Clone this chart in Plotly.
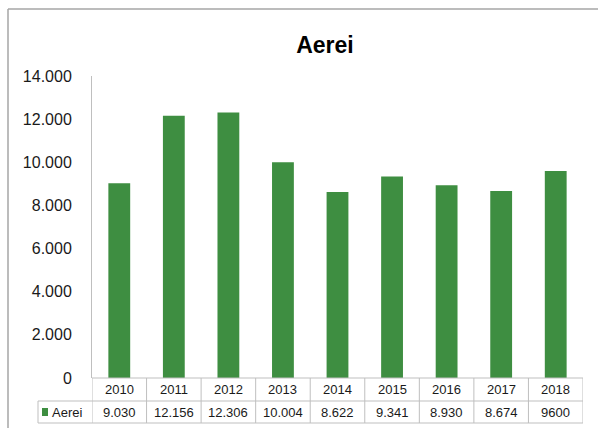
import plotly.graph_objects as go

years = ["2010", "2011", "2012", "2013", "2014", "2015", "2016", "2017", "2018"]
values = [9030, 12156, 12306, 10004, 8622, 9341, 8930, 8674, 9600]
value_labels = ["9.030", "12.156", "12.306", "10.004", "8.622", "9.341", "8.930", "8.674", "9600"]
series_name = "Aerei"
title_text = "Aerei"

W, H = 598, 428
L, R, T, B = 92, 15, 76, 50
pw = W - L - R
ph = H - T - B

def px(xpix):
    return (xpix - L) / pw

def py(ypix):
    return (H - B - ypix) / ph

GREEN = "#3e8e41"
LINE = "#bfbfbf"
FONT = "Liberation Sans"
TXT = "#1a1a1a"

fig = go.Figure()
fig.add_trace(go.Bar(x=years, y=values, marker=dict(color=GREEN, line=dict(width=0)),
                     width=0.4, name=series_name, showlegend=False))

shapes = []
# outer chart border (left and top)
shapes.append(dict(type="line", xref="paper", yref="paper", x0=px(8), x1=px(8), y0=py(9), y1=py(430),
                   line=dict(color="#a6a6a6", width=1.5)))
shapes.append(dict(type="line", xref="paper", yref="paper", x0=px(8), x1=px(600), y0=py(9), y1=py(9),
                   line=dict(color="#a6a6a6", width=1.5)))
# table horizontal lines
row1 = py(401)
row2 = py(423)
shapes.append(dict(type="line", xref="paper", yref="paper", x0=0, x1=1, y0=0, y1=0, line=dict(color=LINE, width=1)))
shapes.append(dict(type="line", xref="paper", yref="paper", x0=px(38), x1=1, y0=row1, y1=row1, line=dict(color=LINE, width=1)))
shapes.append(dict(type="line", xref="paper", yref="paper", x0=px(38), x1=1, y0=row2, y1=row2, line=dict(color=LINE, width=1)))
# legend cell left border
shapes.append(dict(type="line", xref="paper", yref="paper", x0=px(38), x1=px(38), y0=row1, y1=row2, line=dict(color=LINE, width=1)))
# vertical table lines at category boundaries
for i in range(len(years) + 1):
    shapes.append(dict(type="line", xref="x", yref="paper", x0=i - 0.5, x1=i - 0.5, y0=0, y1=row2,
                       line=dict(color=LINE, width=1)))
# legend key
shapes.append(dict(type="rect", xref="paper", yref="paper", x0=px(42), x1=px(48), y0=py(416), y1=py(408),
                   fillcolor=GREEN, line=dict(width=0)))

annotations = []
for i, (yr, lab) in enumerate(zip(years, value_labels)):
    annotations.append(dict(x=i, y=(0 + row1) / 2, xref="x", yref="paper", text=yr, showarrow=False,
                            xanchor="center", yanchor="middle",
                            font=dict(family=FONT, size=13, color=TXT)))
    annotations.append(dict(x=i, y=(row1 + row2) / 2, xref="x", yref="paper", text=lab, showarrow=False,
                            xanchor="center", yanchor="middle",
                            font=dict(family=FONT, size=13, color=TXT)))
annotations.append(dict(x=px(50), y=(row1 + row2) / 2, xref="paper", yref="paper", text=series_name,
                        showarrow=False, xanchor="left", yanchor="middle",
                        font=dict(family=FONT, size=13, color=TXT)))

fig.update_layout(
    width=W, height=H,
    margin=dict(l=L, r=R, t=T, b=B),
    paper_bgcolor="white", plot_bgcolor="white",
    separators=",.",
    title=dict(text="<b>" + title_text + "</b>", xref="container", x=325 / W, xanchor="center",
               yref="container", y=1 - 45 / H, yanchor="middle",
               font=dict(family=FONT, size=23, color="black")),
    xaxis=dict(type="category", range=[-0.5, len(years) - 0.5], showticklabels=False, showgrid=False,
               showline=False, zeroline=False, ticks=""),
    yaxis=dict(range=[0, 14000], tickvals=[0, 2000, 4000, 6000, 8000, 10000, 12000, 14000],
               tickformat=",", showgrid=False, zeroline=False, showline=True, linecolor=LINE, linewidth=1,
               ticks="", ticklabelstandoff=16,
               tickfont=dict(family=FONT, size=16, color=TXT)),
    shapes=shapes, annotations=annotations, bargap=0.6,
)

fig.write_html("out.html", config={"displayModeBar": False},
               post_script="document.body.style.margin='0';document.body.style.overflow='hidden';")
